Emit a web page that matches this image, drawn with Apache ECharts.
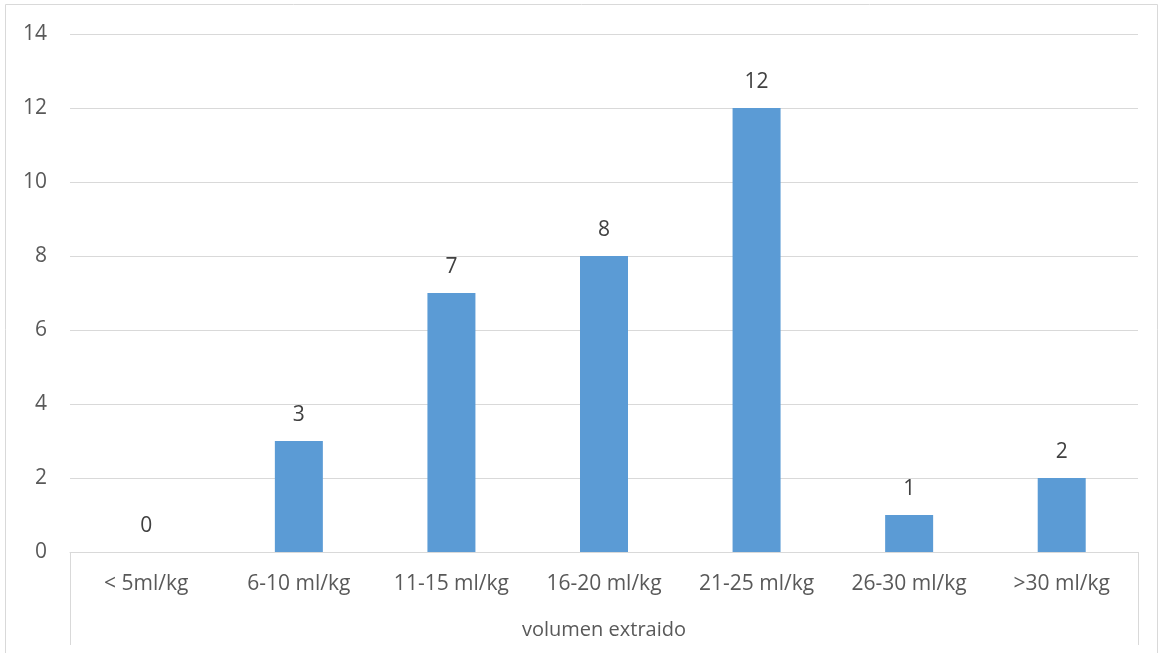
<!DOCTYPE html>
<html>
<head>
<meta charset="utf-8">
<script src="https://cdn.jsdelivr.net/npm/echarts@6/dist/echarts.min.js"></script>
<style>
  html, body { margin: 0; padding: 0; background: #fff; }
  #chart { width: 1158px; height: 653px; }
</style>
</head>
<body>
<div id="chart"></div>
<script>
// Volume ranges and how many cases fall into each
const categories = ['< 5ml/kg', '6-10 ml/kg', '11-15 ml/kg', '16-20 ml/kg', '21-25 ml/kg', '26-30 ml/kg', '>30 ml/kg'];
const counts = [0, 3, 7, 8, 12, 1, 2];
const axisTitle = 'volumen extraido';

const FONT = '"Open Sans", sans-serif';
const FS = 21;
const GRID = { left: 70, right: 20, top: 34, bottom: 101 };
const W = 1158, H = 653;
const gridBottomY = H - GRID.bottom;
const lineColor = '#d9d9d9';

const chart = echarts.init(document.getElementById('chart'));
chart.setOption({
  animation: false,
  textStyle: { fontFamily: FONT },
  grid: GRID,
  xAxis: {
    type: 'category',
    data: categories,
    name: axisTitle,
    nameLocation: 'middle',
    nameGap: 68,
    nameTextStyle: { color: '#595959', fontSize: FS - 1, fontFamily: FONT },
    axisLine: { lineStyle: { color: lineColor, width: 1 } },
    axisTick: { show: false },
    axisLabel: { color: '#595959', fontSize: FS, margin: 22, fontFamily: FONT },
    splitLine: { show: false }
  },
  yAxis: {
    type: 'value',
    min: 0, max: 14, interval: 2,
    axisLine: { show: false },
    axisTick: { show: false },
    axisLabel: { color: '#595959', fontSize: FS, margin: 23, fontFamily: FONT },
    splitLine: { lineStyle: { color: lineColor, width: 1 } }
  },
  series: [{
    type: 'bar',
    data: counts,
    barWidth: 48,
    itemStyle: { color: '#5b9bd5' },
    label: {
      show: true,
      position: 'top',
      distance: 15,
      color: '#404040',
      fontSize: FS,
      fontFamily: FONT
    }
  }],
  graphic: [
    // outer chart frame
    { type: 'rect', shape: { x: 5.5, y: 4.5, width: W - 6, height: H + 10 },
      style: { fill: 'none', stroke: lineColor, lineWidth: 1 }, silent: true },
    // category axis side brackets
    { type: 'line', shape: { x1: GRID.left + 0.5, y1: gridBottomY, x2: GRID.left + 0.5, y2: H - 8 },
      style: { stroke: lineColor, lineWidth: 1 }, silent: true },
    { type: 'line', shape: { x1: W - GRID.right + 0.5, y1: gridBottomY, x2: W - GRID.right + 0.5, y2: H - 8 },
      style: { stroke: lineColor, lineWidth: 1 }, silent: true }
  ]
});
</script>
</body>
</html>
